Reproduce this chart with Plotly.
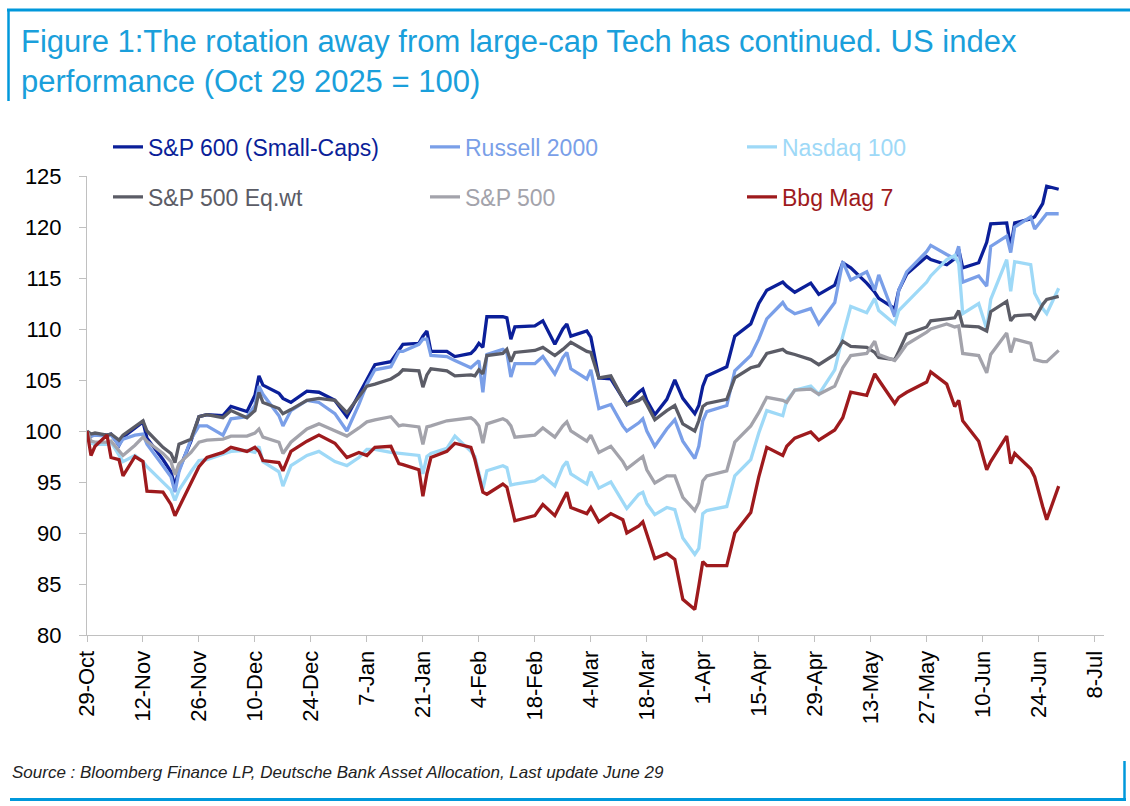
import plotly.graph_objects as go

# trading-day samples (Oct 29 2025 = 100)
dates = [
    "2025-10-29", "2025-10-30", "2025-10-31", "2025-11-03", "2025-11-04", "2025-11-06", "2025-11-07", "2025-11-10", "2025-11-12", "2025-11-13",
    "2025-11-17", "2025-11-19", "2025-11-20", "2025-11-21", "2025-11-24", "2025-11-26", "2025-11-28", "2025-12-02", "2025-12-04", "2025-12-08",
    "2025-12-10", "2025-12-11", "2025-12-12", "2025-12-16", "2025-12-17", "2025-12-19", "2025-12-23", "2025-12-26", "2025-12-30", "2026-01-02",
    "2026-01-05", "2026-01-07", "2026-01-09", "2026-01-13", "2026-01-15", "2026-01-16", "2026-01-20", "2026-01-21", "2026-01-22", "2026-01-23",
    "2026-01-27", "2026-01-29", "2026-02-02", "2026-02-03", "2026-02-04", "2026-02-05", "2026-02-06", "2026-02-10", "2026-02-11", "2026-02-12",
    "2026-02-13", "2026-02-18", "2026-02-20", "2026-02-23", "2026-02-25", "2026-02-26", "2026-02-27", "2026-03-03", "2026-03-04", "2026-03-06",
    "2026-03-09", "2026-03-12", "2026-03-13", "2026-03-16", "2026-03-17", "2026-03-18", "2026-03-20", "2026-03-23", "2026-03-25", "2026-03-27",
    "2026-03-30", "2026-03-31", "2026-04-01", "2026-04-02", "2026-04-07", "2026-04-09", "2026-04-13", "2026-04-15", "2026-04-17", "2026-04-21",
    "2026-04-22", "2026-04-24", "2026-04-28", "2026-04-30", "2026-05-04", "2026-05-06", "2026-05-08", "2026-05-12", "2026-05-14", "2026-05-15",
    "2026-05-19", "2026-05-20", "2026-05-22", "2026-05-27", "2026-05-28", "2026-06-01", "2026-06-03", "2026-06-04", "2026-06-05", "2026-06-09",
    "2026-06-11", "2026-06-12", "2026-06-16", "2026-06-17", "2026-06-18", "2026-06-22", "2026-06-23", "2026-06-25", "2026-06-26", "2026-06-29",
]

sp600 = [
    100, 99.5, 99.7, 99.6, 99.7, 98.6, 99.4, 100.3, 100.9, 99.3,
    97.2, 96.0, 94.6, 96.2, 99.0, 101.4, 101.6, 101.5, 102.4, 101.9,
    103.5, 105.4, 104.5, 103.7, 103.2, 102.8, 103.9, 103.8, 103.0, 101.4,
    103.6, 105.1, 106.5, 106.8, 108.0, 108.5, 108.6, 109.3, 109.8, 107.8,
    107.8, 107.3, 107.6, 108.0, 108.6, 108.2, 111.2, 111.2, 111.1, 109.0,
    110.2, 110.3, 110.8, 108.5, 110.0, 110.5, 109.3, 109.8, 109.2, 105.2,
    105.1, 103.2, 102.6, 103.8, 104.1, 103.0, 101.6, 103.1, 105.0, 103.2,
    101.7, 102.5, 104.4, 105.4, 106.3, 109.3, 110.5, 112.5, 113.8, 114.6,
    114.2, 113.6, 114.5, 113.4, 114.3, 116.5, 116.0, 114.5, 113.6, 113.0,
    112.0, 113.8, 115.4, 117.1, 116.8, 116.3, 116.9, 117.8, 116.0, 116.5,
    118.5, 120.3, 120.4, 118.0, 120.4, 120.8, 121.0, 122.3, 124.0, 123.7,
]
russell = [
    100, 99.5, 99.6, 99.5, 99.6, 98.6, 99.2, 99.6, 99.7, 98.7,
    96.6, 95.5, 94.0, 96.0, 99.2, 100.5, 100.5, 99.6, 101.2, 101.4,
    102.5, 104.4, 103.6, 101.5, 100.5, 102.0, 103.0, 102.8, 101.7, 100.0,
    102.6, 104.6, 106.0, 106.3, 107.8, 107.8, 108.5, 109.0, 109.0, 107.4,
    107.3, 106.9, 106.2, 106.5, 106.9, 103.8, 107.5, 108.0, 107.7, 105.3,
    106.6, 106.6, 107.3, 105.6, 107.2, 107.7, 106.1, 105.1, 106.0, 102.2,
    102.6, 100.5, 100.0, 100.8, 101.2, 100.0, 98.5, 100.2, 101.1, 99.0,
    97.3, 98.5, 101.0, 101.9, 102.5, 105.9, 107.4, 109.0, 111.0, 112.6,
    112.0, 111.5, 112.0, 110.5, 112.6, 116.6, 114.8, 115.6, 113.8, 115.3,
    111.2, 113.8, 115.6, 117.6, 118.2, 117.3, 116.9, 118.1, 114.6, 115.2,
    114.2, 118.1, 119.1, 117.5, 120.0, 121.0, 119.8, 120.8, 121.3, 121.3,
]
nasdaq = [
    100, 98.8, 98.7, 98.7, 98.9, 97.6, 97.0, 97.6, 97.0, 96.5,
    95.0, 94.2, 93.2, 94.2, 96.0, 97.1, 97.2, 97.7, 98.0, 98.1,
    97.9, 98.5, 97.0, 96.0, 94.6, 96.6, 97.6, 98.0, 97.0, 96.6,
    97.4, 98.2, 98.2, 97.9, 97.8, 97.8, 97.6, 95.8, 97.5, 97.8,
    98.3, 99.5, 98.0, 97.5, 96.0, 94.3, 96.1, 96.6, 96.4, 94.7,
    94.8, 95.1, 95.6, 94.6, 96.5, 97.0, 95.8, 94.8, 96.0, 94.4,
    95.0, 93.0, 92.4, 93.8, 94.0, 92.9, 91.8, 92.5, 92.3, 89.5,
    87.9, 88.5, 91.9, 92.2, 92.6, 95.6, 97.2, 99.8, 102.0, 101.5,
    103.0, 104.0, 104.4, 103.6, 106.0, 109.3, 112.2, 111.6, 113.0, 111.8,
    110.5, 111.8, 112.6, 114.6, 115.2, 116.8, 117.2, 116.4, 111.5, 112.5,
    110.0, 112.9, 116.8, 113.7, 116.6, 116.3, 113.5, 112.0, 111.5, 114.0,
]
sp500_eqwt = [
    100, 99.7, 99.8, 99.6, 99.7, 99.1, 99.6, 100.4, 101.0, 100.0,
    98.4, 97.8, 96.9, 98.7, 99.2, 101.4, 101.6, 101.3, 102.0, 101.3,
    102.0, 103.8, 102.8, 102.2, 101.7, 102.1, 103.0, 103.2, 103.0, 101.8,
    103.3, 104.4, 104.6, 105.1, 105.6, 106.0, 105.9, 104.3, 105.5, 106.1,
    105.9, 105.4, 105.5, 105.4, 106.0, 105.6, 107.4, 107.6, 108.0, 106.8,
    107.7, 107.9, 108.2, 107.4, 108.0, 108.4, 108.7, 107.8, 107.7, 105.2,
    105.4, 103.2, 102.6, 103.0, 103.3, 102.6, 101.1, 102.0, 102.5, 100.7,
    100.0, 101.0, 102.4, 102.7, 103.1, 105.2, 106.2, 106.4, 107.6, 108.0,
    107.7, 107.5, 107.0, 106.5, 107.5, 108.8, 108.3, 108.2, 107.7, 107.2,
    107.0, 107.8, 109.5, 110.2, 110.8, 111.0, 111.1, 111.8, 110.3, 110.2,
    109.8, 111.7, 112.7, 110.8, 111.3, 111.4, 111.0, 112.4, 112.9, 113.2,
]
sp500 = [
    100, 99.0, 98.9, 98.9, 99.0, 98.0, 97.6, 98.6, 99.4, 99.0,
    97.8, 97.0, 95.7, 96.8, 97.9, 98.9, 99.1, 99.2, 99.5, 99.5,
    99.8, 100.2, 99.4, 98.9, 97.8, 98.9, 100.2, 100.7, 100.0, 99.5,
    100.3, 100.9, 101.1, 101.4, 100.5, 100.6, 100.4, 98.7, 100.4, 100.5,
    101.0, 101.1, 101.3, 101.0, 100.5, 98.8, 100.7, 101.2, 101.0, 100.5,
    99.4, 99.6, 100.3, 99.4, 100.5, 100.9, 100.0, 99.0, 99.6, 97.9,
    98.5, 97.0, 96.3, 97.2, 97.5, 96.2, 94.9, 95.6, 95.6, 93.5,
    92.2, 93.0, 95.1, 95.6, 96.1, 98.9, 100.5, 101.8, 103.3, 103.0,
    102.8, 104.0, 104.1, 103.6, 104.4, 106.2, 107.4, 107.6, 108.8, 107.5,
    106.9, 107.4, 108.5, 109.7, 110.0, 110.5, 110.2, 110.3, 107.6, 107.4,
    105.7, 107.5, 109.6, 107.7, 109.0, 108.6, 107.0, 106.8, 106.8, 107.9,
]
mag7 = [
    100, 97.6, 98.5, 99.6, 97.4, 97.2, 95.6, 97.5, 97.0, 94.1,
    94.0, 92.8, 91.7, 92.5, 95.0, 96.5, 97.4, 97.9, 98.4, 98.0,
    98.4, 98.0, 97.1, 96.9, 96.1, 98.0, 99.0, 99.6, 98.8, 97.4,
    97.9, 97.6, 98.4, 98.5, 96.8, 96.7, 96.2, 93.6, 95.8, 97.4,
    98.0, 98.8, 98.4, 97.2, 95.6, 94.0, 93.8, 94.8, 94.5, 93.0,
    91.2, 91.7, 92.8, 91.7, 93.2, 94.0, 92.5, 91.9, 92.5, 91.1,
    91.9, 91.3, 90.0, 90.7, 91.1, 89.9, 87.5, 88.0, 87.4, 83.5,
    82.5, 84.8, 87.2, 86.8, 86.8, 90.0, 92.0, 95.5, 98.4, 97.6,
    98.5, 99.3, 99.9, 99.1, 100.1, 101.3, 103.8, 103.5, 105.6, 105.0,
    102.7, 103.3, 103.8, 104.8, 105.8, 104.6, 102.4, 103.0, 101.0, 99.0,
    96.2, 97.0, 99.5, 96.8, 97.8, 96.3, 95.5, 92.6, 91.3, 94.6,
]

series = [
    ("S&P 600 (Small-Caps)", sp600, "#0b1f99", "legend"),
    ("Russell 2000", russell, "#7a9fe8", "legend"),
    ("Nasdaq 100", nasdaq, "#9ed9f7", "legend"),
    ("S&P 500 Eq.wt", sp500_eqwt, "#5b5c66", "legend2"),
    ("S&P 500", sp500, "#a3a3ab", "legend2"),
    ("Bbg Mag 7", mag7, "#9e1a1d", "legend2"),
]

FONT = "Liberation Sans, Arial, sans-serif"
BLUE = "#0098db"

# plot area in page pixels, used to place the frame lines and notes
L, R, T, B = 87, 26, 176, 171
PW, PH = 1130 - L - R, 806 - T - B


def fx(px):
    return (px - L) / PW


def fy(py):
    return (806 - B - py) / PH


fig = go.Figure()
for name, vals, col, leg in series:
    fig.add_trace(go.Scatter(
        x=dates, y=vals, mode="lines", legend=leg,
        name=f'<span style="color:{col}">{name}</span>',
        line=dict(color=col, width=3.3),
    ))

legend_style = dict(
    orientation="h", xanchor="left", yanchor="middle", x=fx(108),
    entrywidth=272, entrywidthmode="pixels", bgcolor="rgba(0,0,0,0)",
    font=dict(size=23, family=FONT), itemwidth=30,
)

fig.update_layout(
    width=1130, height=806,
    margin=dict(l=L, r=R, t=T, b=B),
    paper_bgcolor="white", plot_bgcolor="white",
    font=dict(family=FONT, color="black"),
    showlegend=True,
    legend=dict(legend_style, y=fy(147)),
    legend2=dict(legend_style, y=fy(197)),
    xaxis=dict(
        type="date", range=["2025-10-29", "2026-07-10 08:00"],
        tick0="2025-10-29", dtick=14 * 86400000, tickformat="%-d-%b",
        tickangle=-90, ticks="outside", ticklen=6, tickcolor="#c0c0c0",
        showline=True, linecolor="#c0c0c0", linewidth=1,
        showgrid=False, zeroline=False,
        tickfont=dict(size=22, color="black"),
    ),
    yaxis=dict(
        range=[80, 125], dtick=5, ticks="outside", ticklen=7,
        tickcolor="#c0c0c0", showline=True, linecolor="#c0c0c0", linewidth=1,
        showgrid=False, zeroline=False, ticklabelstandoff=13,
        tickfont=dict(size=22, color="black"),
    ),
    annotations=[
        dict(
            text="Figure 1:The rotation away from large-cap Tech has continued. US index<br>performance (Oct 29 2025 = 100)",
            xref="paper", yref="paper", x=fx(19), y=fy(22),
            xanchor="left", yanchor="top", align="left", showarrow=False,
            font=dict(size=31, color="#1a9fdb", family=FONT),
        ),
        dict(
            text="<i>Source : Bloomberg Finance LP, Deutsche Bank Asset Allocation, Last update June 29</i>",
            xref="paper", yref="paper", x=fx(10), y=fy(772),
            xanchor="left", yanchor="middle", showarrow=False,
            font=dict(size=17, color="#222222", family=FONT),
        ),
    ],
    shapes=[
        dict(type="line", xref="paper", yref="paper", x0=fx(7), x1=fx(1130), y0=fy(10), y1=fy(10),
             line=dict(color=BLUE, width=3)),
        dict(type="line", xref="paper", yref="paper", x0=fx(8.5), x1=fx(8.5), y0=fy(10), y1=fy(101),
             line=dict(color=BLUE, width=2.5)),
        dict(type="line", xref="paper", yref="paper", x0=fx(10), x1=fx(1126), y0=fy(799.5), y1=fy(799.5),
             line=dict(color=BLUE, width=3)),
        dict(type="line", xref="paper", yref="paper", x0=fx(1124.5), x1=fx(1124.5), y0=fy(761), y1=fy(799.5),
             line=dict(color=BLUE, width=2.5)),
    ],
)

fig.write_html(
    "out.html",
    config={"displayModeBar": False},
    post_script="document.body.style.margin='0';document.body.style.overflow='hidden';",
)
